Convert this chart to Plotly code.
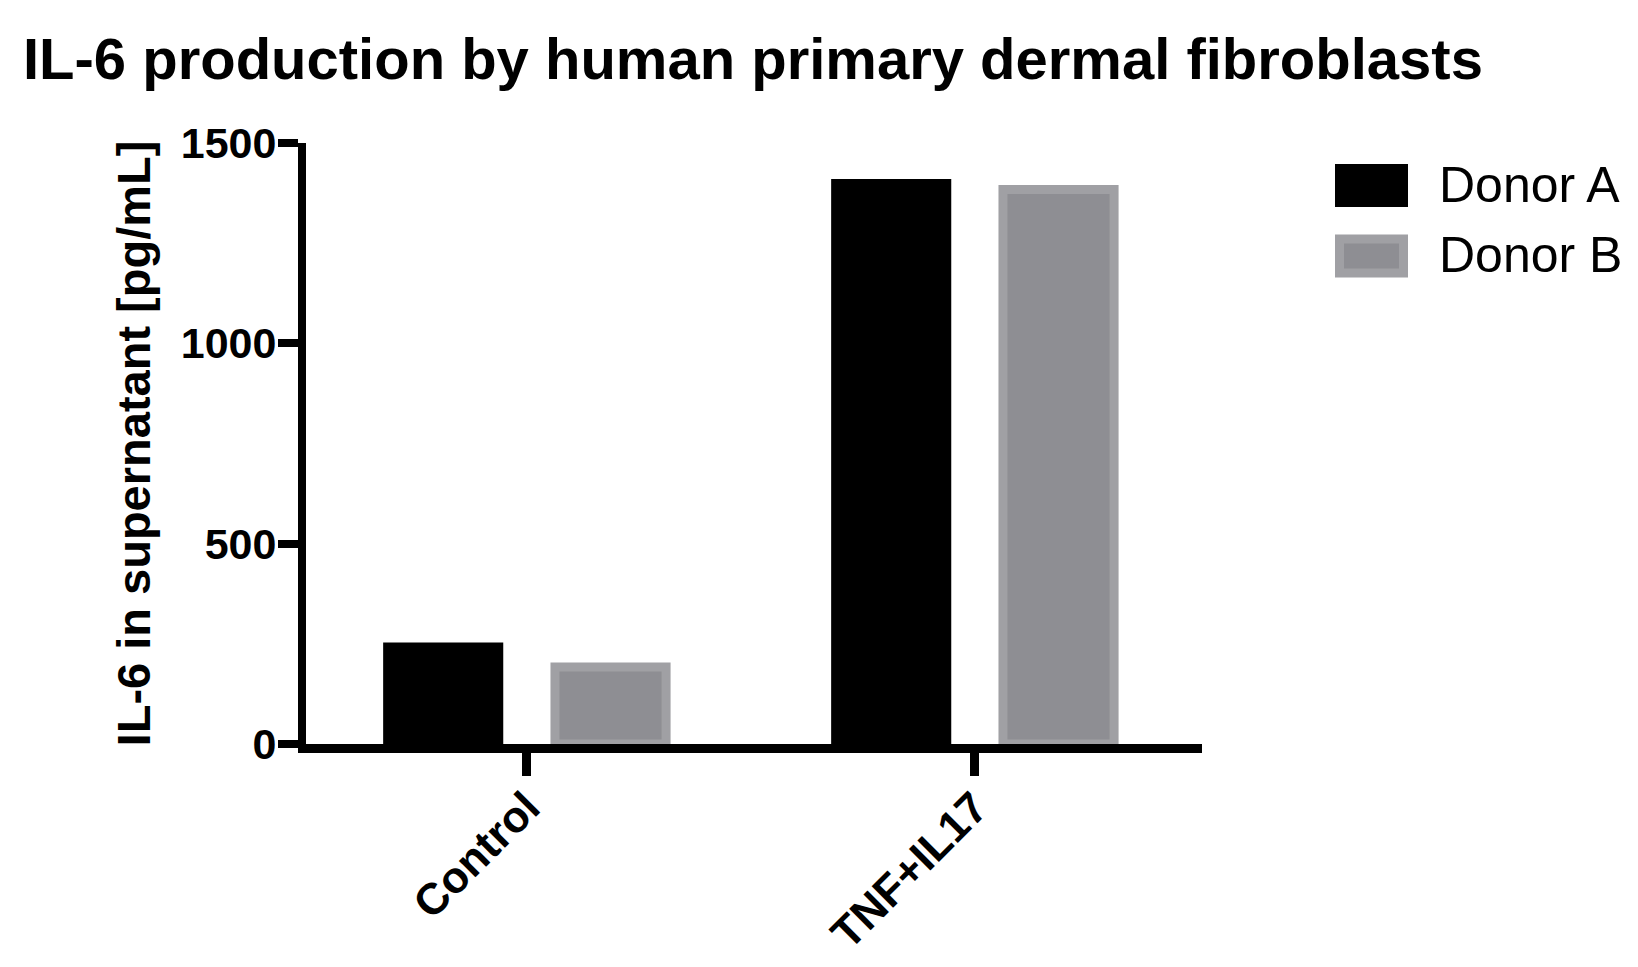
import plotly.graph_objects as go

# data
categories = ["Control", "TNF+IL17"]
donor_a = [242, 1399]
donor_b = [192, 1384]
series_names = ["Donor A", "Donor B"]
y_ticks = [0, 500, 1000, 1500]

FONT = "Liberation Sans, Arial, sans-serif"
GRAY_FILL = "#8e8e93"
GRAY_EDGE = "#a0a0a4"

# the page body adds an 8px margin, so everything is laid out 8px up/left
OFF = 8
W, H = 1638 - OFF, 967 - OFF
PLOT_L, PLOT_R, PLOT_T, PLOT_B = 306 - OFF, 1202 - OFF, 143 - OFF, 744 - OFF


def px(x):
    return (x - OFF - PLOT_L) / (PLOT_R - PLOT_L)


def py(y):
    return (PLOT_B - (y - OFF)) / (PLOT_B - PLOT_T)


fig = go.Figure()
fig.add_trace(go.Bar(
    x=categories, y=donor_a, name=series_names[0],
    marker=dict(color="black", line=dict(color="black", width=9)),
))
fig.add_trace(go.Bar(
    x=categories, y=donor_b, name=series_names[1],
    marker=dict(color=GRAY_FILL, line=dict(color=GRAY_EDGE, width=9)),
))

# hand-made legend with wide swatches like the original
legend_rows = [
    (series_names[0], "black", "black", 185.5),
    (series_names[1], GRAY_FILL, GRAY_EDGE, 256),
]
for name, fill, edge, yc in legend_rows:
    fig.add_shape(
        type="rect", xref="paper", yref="paper",
        x0=px(1339.5), x1=px(1403.5), y0=py(yc - 17), y1=py(yc + 17),
        fillcolor=fill, line=dict(color=edge, width=9),
    )
    fig.add_annotation(
        text=name, xref="paper", yref="paper",
        x=px(1437), y=py(yc - 1), xanchor="left", yanchor="middle",
        showarrow=False, font=dict(family=FONT, size=50, color="black"),
    )

fig.update_layout(
    width=W, height=H,
    barmode="group", bargap=0.253, bargroupgap=0.336,
    showlegend=False,
    plot_bgcolor="white", paper_bgcolor="white",
    margin=dict(l=PLOT_L, r=W - PLOT_R, t=PLOT_T, b=H - PLOT_B, pad=0),
    title=dict(
        text="IL-6 production by human primary dermal fibroblasts",
        x=(23 - OFF) / W, xanchor="left", y=1 - (59 - OFF) / H, yanchor="middle",
        font=dict(family=FONT, size=58, color="black", weight="bold"),
    ),
    font=dict(family=FONT, color="black"),
)
fig.update_xaxes(
    range=[-0.493, 1.507], showline=True, linecolor="black", linewidth=9,
    ticks="outside", ticklen=23, tickwidth=9, tickcolor="black",
    tickangle=-45, ticklabelstandoff=-12,
    showgrid=False, zeroline=False, automargin=False,
    tickfont=dict(family=FONT, size=44, weight="bold", color="black"),
)
fig.update_yaxes(
    range=[0, 1500], tickvals=y_ticks, showline=True, linecolor="black", linewidth=8,
    ticks="outside", ticklen=20, tickwidth=8, tickcolor="black",
    ticklabelstandoff=-7,
    showgrid=False, zeroline=False, automargin=False,
    tickfont=dict(family=FONT, size=43, weight="bold", color="black"),
    title=dict(text="IL-6 in supernatant [pg/mL]", standoff=18,
               font=dict(family=FONT, size=47, weight="bold", color="black")),
)

fig.write_html("out.html")
